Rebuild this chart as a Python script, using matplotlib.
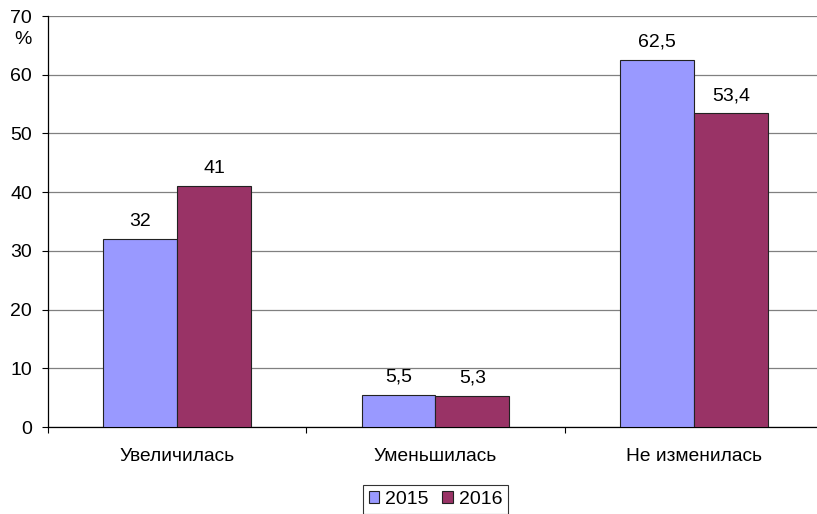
import matplotlib
matplotlib.use("Agg")
import matplotlib.pyplot as plt
import numpy as np
from matplotlib.patches import Patch

categories = ["Увеличилась", "Уменьшилась", "Не изменилась"]
series_names = ["2015", "2016"]
values_2015 = [32, 5.5, 62.5]
values_2016 = [41, 5.3, 53.4]
labels_2015 = ["32", "5,5", "62,5"]
labels_2016 = ["41", "5,3", "53,4"]
colors = ["#9999FF", "#993366"]

plt.rcParams['font.family'] = ['Liberation Sans', 'DejaVu Sans']
fig = plt.figure(figsize=(8.17, 5.14), dpi=100)
W, H = 817, 514
left, right, top, bottom = 48, 823, 16, 427
ax = fig.add_axes([left / W, 1 - bottom / H, (right - left) / W, (bottom - top) / H])

x = np.arange(len(categories))
bw = 0.286
b1 = ax.bar(x - bw / 2, values_2015, bw, color=colors[0], edgecolor="#222222", linewidth=0.8, zorder=3)
b2 = ax.bar(x + bw / 2, values_2016, bw, color=colors[1], edgecolor="#222222", linewidth=0.8, zorder=3)
for rect, lab in zip(b1, labels_2015):
    ax.text(rect.get_x() + rect.get_width() / 2, rect.get_height() + 1.6, lab,
            ha="center", va="bottom", fontsize=14)
for rect, lab in zip(b2, labels_2016):
    ax.text(rect.get_x() + rect.get_width() / 2, rect.get_height() + 1.6, lab,
            ha="center", va="bottom", fontsize=14)

ax.set_xlim(-0.5, 2.5)
ax.set_ylim(0, 70)
ax.set_yticks(range(0, 71, 10))
ax.tick_params(axis="y", labelsize=14, length=4.5, width=0.8, pad=7)
ax.set_xticks([-0.5, 0.5, 1.5, 2.5])
ax.set_xticklabels([])
ax.set_xticks(x, minor=True)
ax.set_xticklabels(categories, minor=True, fontsize=13.8)
ax.tick_params(axis="x", which="major", length=4.5, width=0.8)
ax.tick_params(axis="x", which="minor", length=0, pad=15)
ax.yaxis.grid(True, color="#808080", linewidth=0.9, zorder=0)
ax.set_axisbelow(True)
for s in ["top", "right"]:
    ax.spines[s].set_visible(False)
ax.spines["left"].set_linewidth(0.9)
ax.spines["bottom"].set_linewidth(0.9)

fig.text(23 / W, 1 - 39 / H, "%", ha="center", va="center", fontsize=14)

handles = [Patch(facecolor=colors[0], edgecolor="#222222", linewidth=0.8),
           Patch(facecolor=colors[1], edgecolor="#222222", linewidth=0.8)]
leg = fig.legend(handles, series_names, loc="upper center", bbox_to_anchor=(435.5 / W, 1 - 485 / H),
                 ncol=2, fontsize=14, frameon=True, fancybox=False, edgecolor="black",
                 handlelength=0.55, handleheight=0.55, handletextpad=0.3, columnspacing=0.7,
                 borderpad=0.3, borderaxespad=0)
leg.get_frame().set_linewidth(0.8)

fig.savefig("out.png", dpi=100)
